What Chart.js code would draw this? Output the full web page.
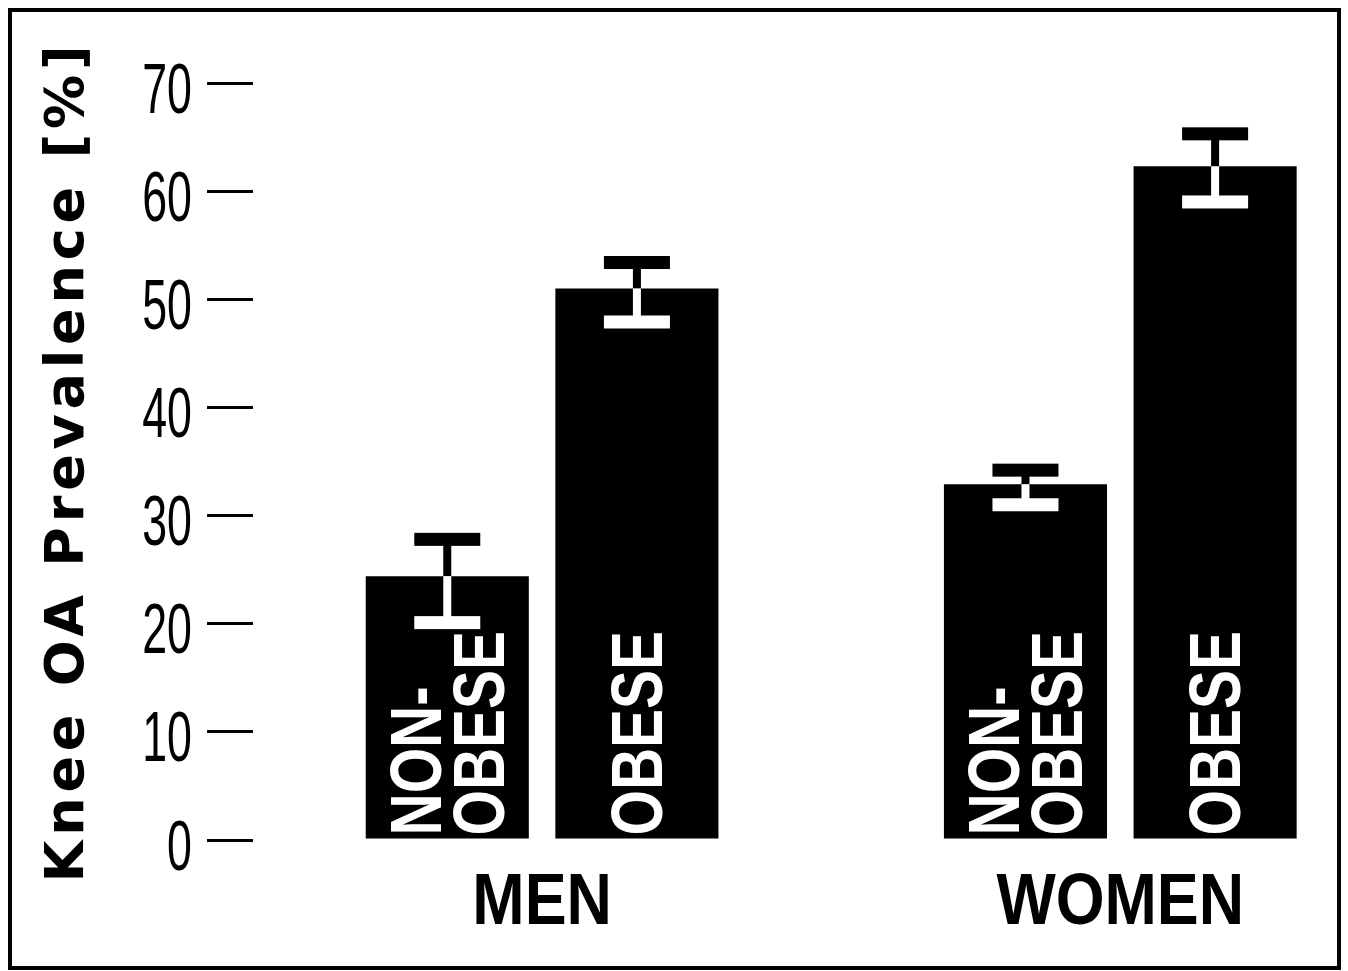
<!DOCTYPE html>
<html>
<head>
<meta charset="utf-8">
<title>Knee OA Prevalence</title>
<script src="https://cdn.jsdelivr.net/npm/chart.js@4.4.1/dist/chart.umd.min.js"></script>
<style>
  html, body { margin: 0; padding: 0; background: #fff; overflow: hidden; }
  canvas { display: block; }
</style>
</head>
<body>
<canvas id="chart" width="1348" height="971"></canvas>
<script>
// Knee OA prevalence by sex and obesity status (mean with error range)
const groups = ['MEN', 'WOMEN'];
const seriesNames = ['NON-OBESE', 'OBESE'];
const seriesLines = [['NON-', 'OBESE'], ['OBESE']];

const nonObese = [24.4, 32.9];
const nonObeseLow = [20.1, 31.0];
const nonObeseHigh = [27.8, 34.2];

const obese = [51.0, 62.3];
const obeseLow = [47.9, 59.0];
const obeseHigh = [53.4, 65.3];

const yTicks = [0, 10, 20, 30, 40, 50, 60, 70];

const SANS = "'Liberation Sans', Arial, sans-serif";
const WIDE = "'DejaVu Sans', 'Liberation Sans', sans-serif";

function toPoints(values) {
  return values.map((v, i) => ({ x: i, y: v }));
}

// Draw text squeezed horizontally (condensed look)
function condensedText(ctx, text, x, y, squeeze, align) {
  ctx.save();
  ctx.translate(x, y);
  ctx.scale(squeeze, 1);
  ctx.textAlign = align;
  ctx.fillText(text, 0, 0);
  ctx.restore();
}

// Frame around the figure; wide tracking for the axis title
const framePlugin = {
  id: 'frame',
  beforeDraw(chart) {
    const ctx = chart.ctx;
    ctx.save();
    ctx.fillStyle = '#fff';
    ctx.fillRect(0, 0, chart.width, chart.height);
    ctx.strokeStyle = '#000';
    ctx.lineWidth = 4;
    ctx.strokeRect(10, 10, chart.width - 19, chart.height - 13);
    ctx.restore();
    ctx.letterSpacing = '4.8px';
  },
  beforeDatasetsDraw(chart) {
    chart.ctx.letterSpacing = '0px';
  }
};

// Condensed tick labels for the value axis and the group names
const axisLabelPlugin = {
  id: 'axisLabels',
  afterDraw(chart) {
    const ctx = chart.ctx;
    const y = chart.scales.y;
    const x = chart.scales.x;
    ctx.save();
    ctx.letterSpacing = '0px';
    ctx.fillStyle = '#000';
    ctx.textBaseline = 'alphabetic';
    ctx.font = '71px ' + SANS;
    y.ticks.forEach((t) => {
      const py = y.getPixelForValue(t.value);
      condensedText(ctx, String(t.value), 192, py + 29.5, 0.63, 'right');
    });
    ctx.font = 'bold 73px ' + SANS;
    const base = y.getPixelForValue(0);
    x.ticks.forEach((t) => {
      const px = x.getPixelForValue(t.value);
      condensedText(ctx, groups[t.value], px, base + 84, 0.86, 'center');
    });
    ctx.restore();
  }
};

// Error bars: black above the bar top, white inside the bar
const errorBarPlugin = {
  id: 'errorBars',
  afterDatasetsDraw(chart) {
    const ctx = chart.ctx;
    const yScale = chart.scales.y;
    chart.data.datasets.forEach((ds, di) => {
      const meta = chart.getDatasetMeta(di);
      meta.data.forEach((bar, i) => {
        const yHi = yScale.getPixelForValue(ds.errHigh[i]);
        const yLo = yScale.getPixelForValue(ds.errLow[i]);
        const yTop = bar.y;
        const x = bar.x;
        const capW = 66, capH = 13, stemW = 8;
        ctx.save();
        ctx.fillStyle = '#000';
        ctx.fillRect(x - stemW / 2, yHi, stemW, yTop - yHi);
        ctx.fillRect(x - capW / 2, yHi - capH / 2, capW, capH);
        ctx.fillStyle = '#fff';
        ctx.fillRect(x - stemW / 2, yTop, stemW, yLo - yTop);
        ctx.fillRect(x - capW / 2, yLo - capH / 2, capW, capH);
        ctx.restore();
      });
    });
  }
};

// Series names written vertically inside each bar
const barLabelPlugin = {
  id: 'barLabels',
  afterDatasetsDraw(chart) {
    const ctx = chart.ctx;
    chart.data.datasets.forEach((ds, di) => {
      const meta = chart.getDatasetMeta(di);
      const lines = ds.lines;
      meta.data.forEach((bar) => {
        ctx.save();
        ctx.letterSpacing = '0px';
        ctx.translate(bar.x, bar.base);
        ctx.rotate(-Math.PI / 2);
        ctx.fillStyle = '#fff';
        ctx.font = 'bold 73px ' + SANS;
        ctx.textBaseline = 'alphabetic';
        const spacing = 63;
        const first = 27 - (lines.length - 1) * spacing / 2 - 2;
        lines.forEach((t, li) => {
          condensedText(ctx, t, 3, first + li * spacing, 0.8, 'left');
        });
        ctx.restore();
      });
    });
  }
};

new Chart(document.getElementById('chart'), {
  type: 'bar',
  data: {
    datasets: [
      {
        label: seriesNames[0],
        lines: seriesLines[0],
        data: toPoints(nonObese),
        errLow: nonObeseLow,
        errHigh: nonObeseHigh,
        backgroundColor: '#000'
      },
      {
        label: seriesNames[1],
        lines: seriesLines[1],
        data: toPoints(obese),
        errLow: obeseLow,
        errHigh: obeseHigh,
        backgroundColor: '#000'
      }
    ]
  },
  options: {
    responsive: false,
    animation: false,
    devicePixelRatio: 1,
    barPercentage: 0.86,
    categoryPercentage: 0.656,
    layout: { padding: { left: 8, right: 8, top: 83, bottom: 0 } },
    plugins: {
      legend: { display: false },
      tooltip: { enabled: false }
    },
    scales: {
      x: {
        type: 'linear',
        offset: false,
        min: -0.5,
        max: 1.38,
        afterBuildTicks(scale) {
          scale.ticks = groups.map((_, i) => ({ value: i }));
        },
        afterFit(scale) { scale.height = 131; },
        grid: { display: false, drawTicks: false, offset: false },
        border: { display: false },
        ticks: { display: false }
      },
      y: {
        min: 0,
        max: 70,
        afterBuildTicks(scale) {
          scale.ticks = yTicks.map(v => ({ value: v }));
        },
        afterFit(scale) { scale.width = 253 - 8; },
        grid: {
          drawOnChartArea: false,
          drawTicks: true,
          tickLength: 46,
          lineWidth: 3,
          color: '#000'
        },
        border: { display: false },
        ticks: { display: false },
        title: {
          display: true,
          text: 'Knee OA Prevalence [%]',
          color: '#000',
          font: { family: WIDE, size: 54, weight: 'bold' },
          padding: { top: 29, bottom: 0 }
        }
      }
    }
  },
  plugins: [framePlugin, errorBarPlugin, barLabelPlugin, axisLabelPlugin]
});
</script>
</body>
</html>
